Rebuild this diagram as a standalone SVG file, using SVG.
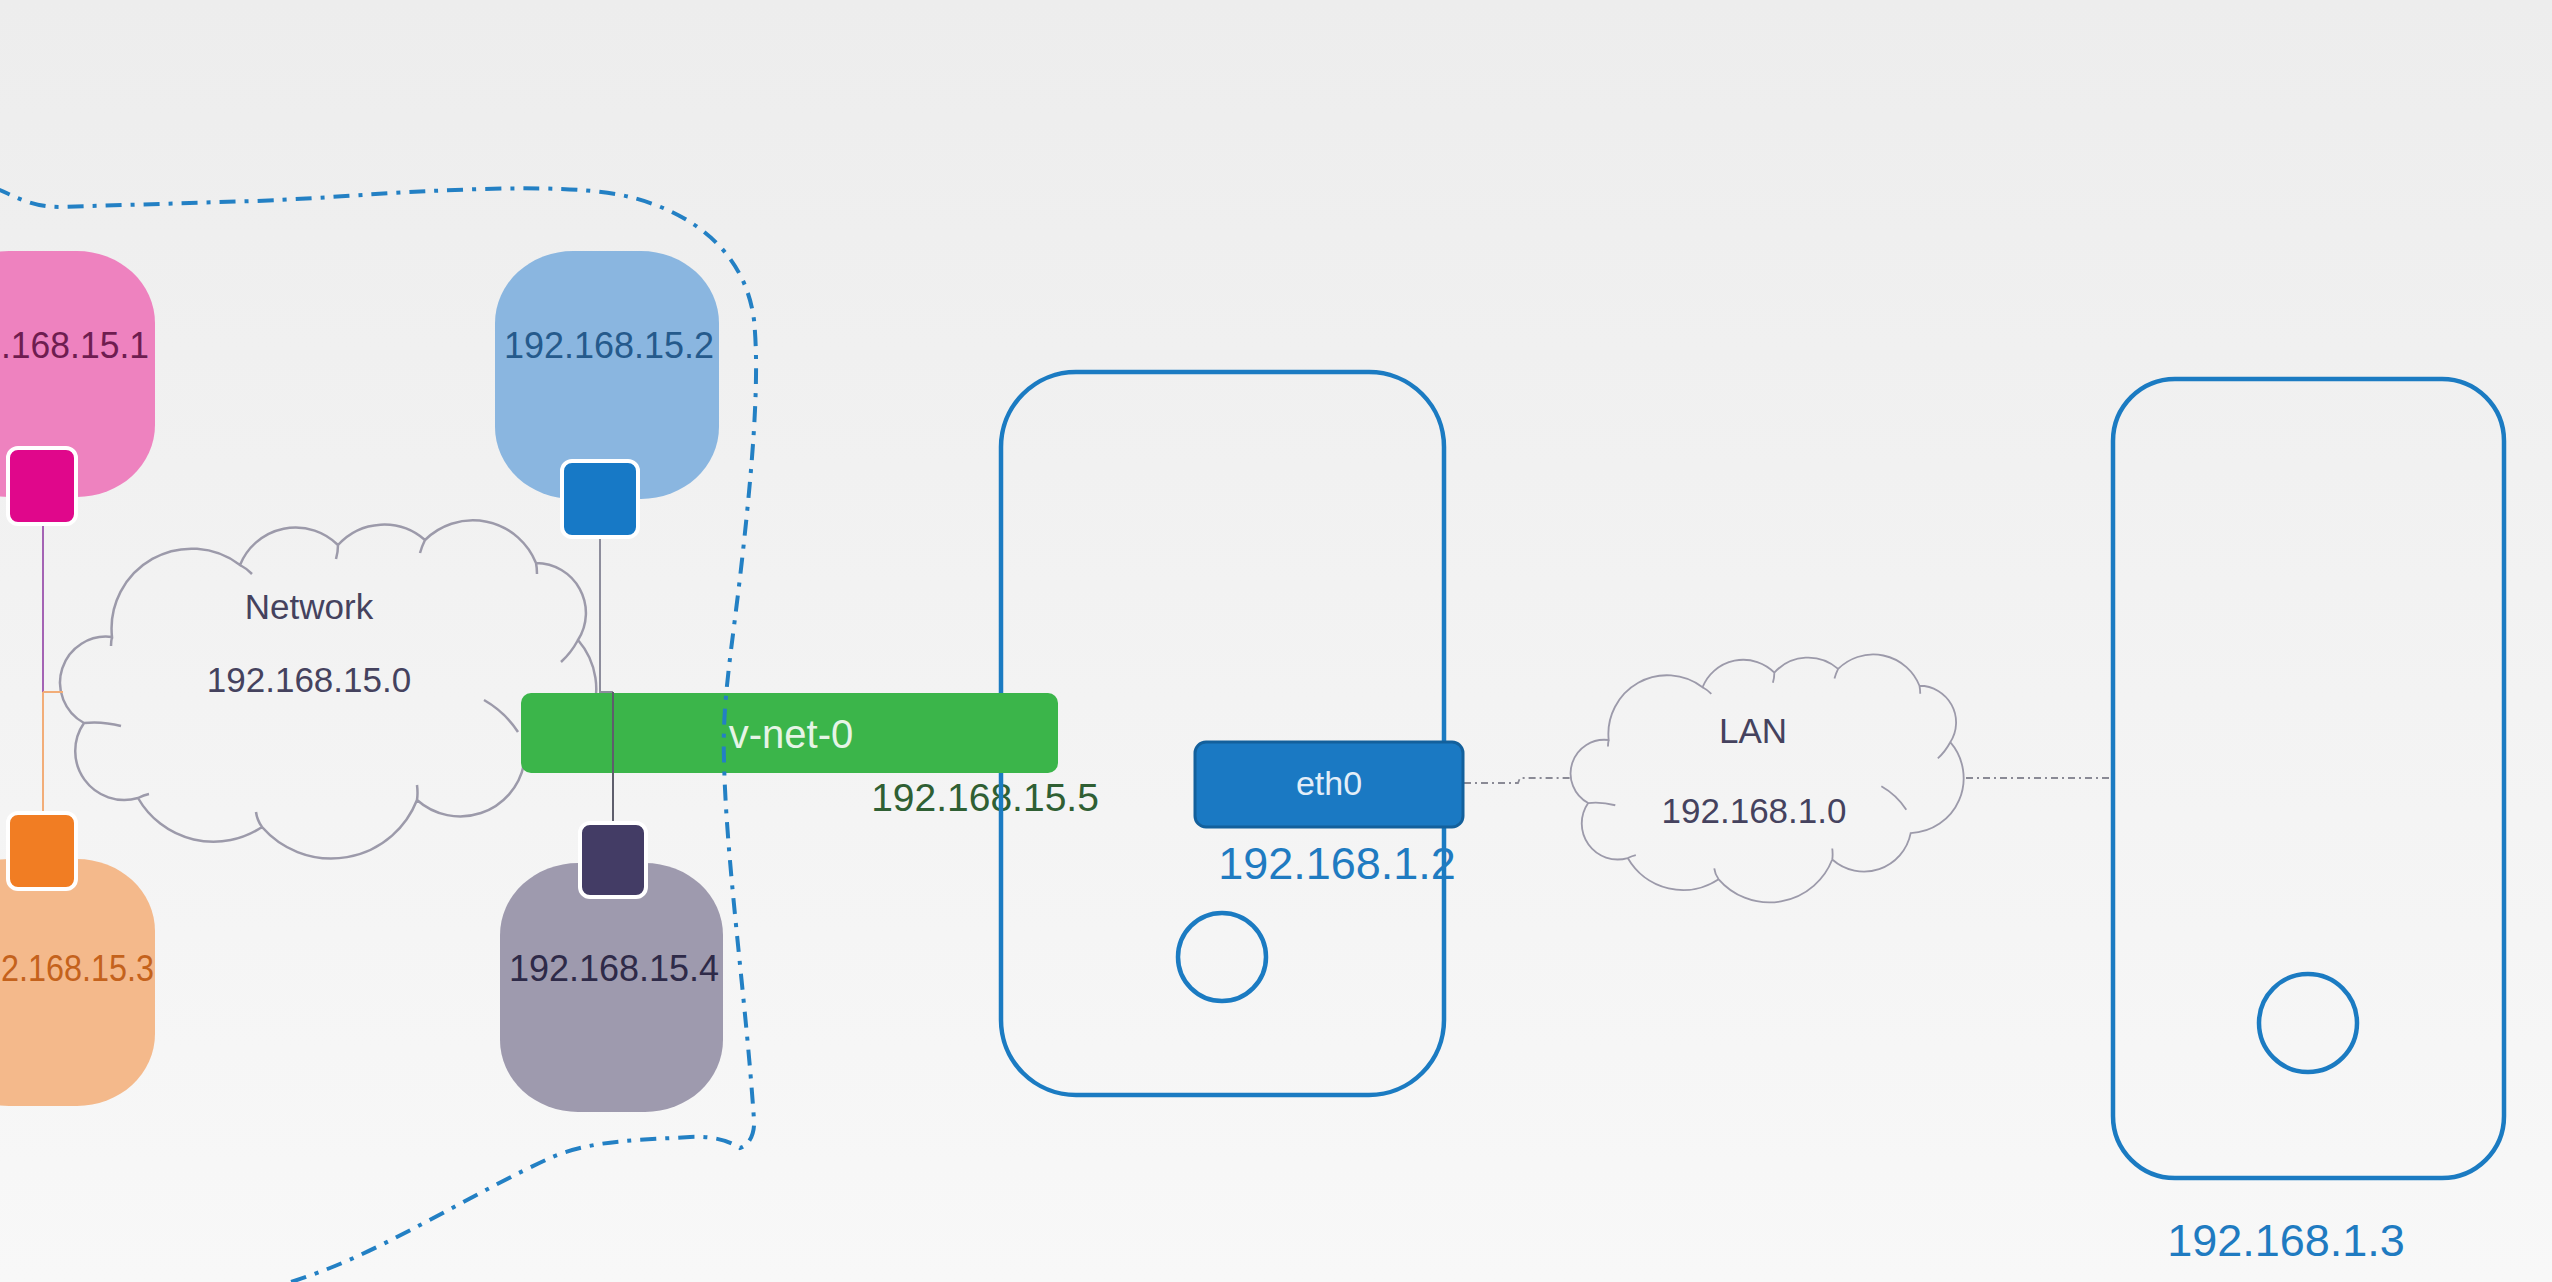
<svg xmlns="http://www.w3.org/2000/svg" width="2552" height="1282" viewBox="0 0 2552 1282">
  <defs>
    <linearGradient id="bg" x1="0" y1="0" x2="0" y2="1">
      <stop offset="0" stop-color="#ededed"/>
      <stop offset="1" stop-color="#f8f8f8"/>
    </linearGradient>
    <path id="cloudShape" d="M112,637 A80,80 0 0 1 240,565 A60,60 0 0 1 338,545 A62,62 0 0 1 425,540 A68,68 0 0 1 536,563 A50,50 0 0 1 578,640 A75,75 0 0 1 524,764 A65,65 0 0 1 417,800 A92,92 0 0 1 262,827 A87,87 0 0 1 138,798 A49,49 0 0 1 84,723 A46,46 0 0 1 112,637 Z M84,723 Q102,721 121,726 M138,798 Q144,795 149,794 M262,827 Q257,820 256,812 M417,800 Q418,793 417,785 M484,700 Q505,712 518,732 M578,640 Q571,653 561,662 M536,563 Q537,568 537,574 M425,540 Q422,546 420,553 M338,545 Q338,552 336,559 M240,565 Q246,568 252,574 M112,637 Q111,641 111,646"/>
  </defs>
  <style>
    text { font-family: "Liberation Sans", Arial, sans-serif; text-anchor: middle; }
    .node-text { font-size: 36px; }
    .clip-text { text-anchor: start; }
    .cloud { fill: none; stroke: #9c9aaa; stroke-width: 2.5; vector-effect: non-scaling-stroke; }
    .cloud-text { font-size: 35px; fill: #45425e; }
    .port { stroke: #ffffff; stroke-width: 4; }
    .host { fill: none; stroke: #1b7bc2; stroke-width: 4.5; }
    .host-ip { font-size: 45px; fill: #1f7bc1; }
    .link { fill: none; stroke-width: 2; }
    .lan-link { fill: none; stroke: #8a8a95; stroke-width: 1.8; stroke-dasharray: 7 4 2 4; }
    .boundary { fill: none; stroke: #2380c4; stroke-width: 4; stroke-dasharray: 16 9 4 9; }
  </style>

  <rect x="0" y="0" width="2552" height="1282" fill="url(#bg)"/>

  <!-- Network cloud -->
  <g id="network-cloud">
    <use href="#cloudShape" class="cloud"/>
    <text class="cloud-text" x="309" y="619">Network</text>
    <text class="cloud-text" x="309" y="692">192.168.15.0</text>
  </g>

  <!-- Pod / namespace nodes -->
  <g id="node-192-168-15-1">
    <rect x="-69" y="251" width="224" height="246" rx="78" ry="72" fill="#ee82bf"/>
    <text class="node-text clip-text" x="1" y="358" textLength="148" lengthAdjust="spacingAndGlyphs" fill="#6e1d50">.168.15.1</text>
  </g>
  <g id="node-192-168-15-2">
    <rect x="495" y="251" width="224" height="248" rx="78" ry="72" fill="#8ab6e0"/>
    <text class="node-text" x="609" y="358" fill="#255a8c">192.168.15.2</text>
  </g>
  <g id="node-192-168-15-3">
    <rect x="-69" y="859" width="224" height="247" rx="78" ry="72" fill="#f4b98b"/>
    <text class="node-text clip-text" x="1" y="981" textLength="153" lengthAdjust="spacingAndGlyphs" fill="#c4621c">2.168.15.3</text>
  </g>
  <g id="node-192-168-15-4">
    <rect x="500" y="863" width="223" height="249" rx="78" ry="72" fill="#9e9aae"/>
    <text class="node-text" x="614" y="981" fill="#2e2a48">192.168.15.4</text>
  </g>

  <!-- v-net-0 bridge -->
  <g id="v-net-0">
    <rect x="521" y="693" width="537" height="80" rx="10" fill="#3bb54a"/>
    <text x="791" y="748" font-size="40" fill="#e6f4e6">v-net-0</text>
    <text x="985" y="811" font-size="39" fill="#2f5f33">192.168.15.5</text>
  </g>

  <!-- Connectors -->
  <g id="connectors">
    <path class="link" stroke="#a463b4" d="M43,523 L43,692"/>
    <path class="link" stroke="#f2ad78" d="M43,692 L43,813 M43,692 L63,692"/>
    <path class="link" stroke="#8d8d9c" d="M600,536 L600,692 L613,692"/>
    <path class="link" stroke="#5e5e6c" d="M613,692 L613,823"/>
    <path class="lan-link" d="M1464,783 L1518,783 L1520,778 L1572,778"/>
    <path class="lan-link" d="M1966,778 L2113,778"/>
  </g>

  <!-- Ports -->
  <g id="port-15-1"><rect class="port" x="8" y="448" width="68" height="76" rx="10" fill="#e0078b"/></g>
  <g id="port-15-2"><rect class="port" x="562" y="461" width="76" height="76" rx="10" fill="#1779c6"/></g>
  <g id="port-15-3"><rect class="port" x="8" y="813" width="68" height="76" rx="10" fill="#f17d23"/></g>
  <g id="port-15-4"><rect class="port" x="580" y="823" width="66" height="74" rx="10" fill="#433c65"/></g>

  <!-- Host 1 -->
  <g id="host-192-168-1-2">
    <path class="host" d="M1001,693 L1001,447 A75,75 0 0 1 1076,372 L1369,372 A75,75 0 0 1 1444,447 L1444,1020 A75,75 0 0 1 1369,1095 L1076,1095 A75,75 0 0 1 1001,1020 L1001,773"/>
    <circle cx="1222" cy="957" r="44" fill="none" stroke="#1b7bc2" stroke-width="4.5"/>
    <rect x="1195" y="742" width="268" height="85" rx="11" fill="#1a79c3" stroke="#13609c" stroke-width="3"/>
    <text x="1329" y="795" font-size="34" fill="#e3eef8">eth0</text>
    <text class="host-ip" x="1337" y="879">192.168.1.2</text>
  </g>

  <!-- LAN cloud -->
  <g id="lan-cloud">
    <use href="#cloudShape" class="cloud" transform="translate(1526.6,273.1) scale(0.733)"/>
    <text class="cloud-text" x="1753" y="743" font-size="36">LAN</text>
    <text class="cloud-text" x="1754" y="823" font-size="36">192.168.1.0</text>
  </g>

  <!-- Host 2 -->
  <g id="host-192-168-1-3">
    <rect class="host" x="2113" y="379" width="391" height="799" rx="62"/>
    <circle cx="2308" cy="1023" r="49" fill="none" stroke="#1b7bc2" stroke-width="4.5"/>
    <text class="host-ip" x="2286" y="1256">192.168.1.3</text>
  </g>

  <!-- Network namespace boundary -->
  <g id="boundary">
    <path class="boundary" d="M-5,188 C15,196 30,207 60,207 L255,201 C330,198 380,193 430,191 C500,188 580,185 630,197 C690,212 745,250 754,320 C760,380 752,470 742,560 C732,650 722,700 724,760 C726,860 746,1000 754,1120 C755,1135 748,1146 740,1148 C728,1140 712,1136 690,1137 C640,1140 590,1140 550,1158 C480,1190 400,1240 330,1268 C300,1280 280,1285 260,1292"/>
  </g>
</svg>
